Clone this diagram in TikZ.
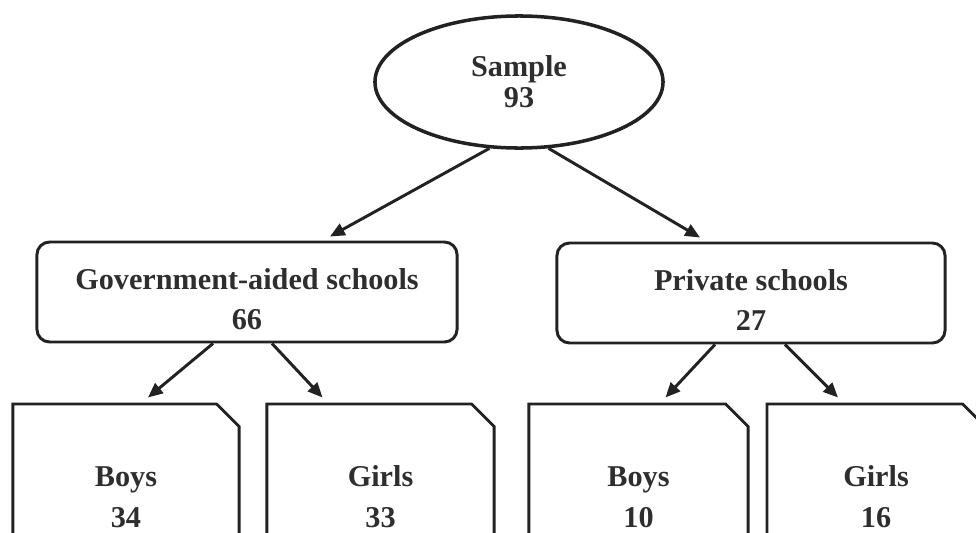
\documentclass[tikz,border=0pt]{standalone}
\usepackage{fontspec}
\setmainfont{Liberation Serif}
\usetikzlibrary{arrows.meta,positioning,shapes.geometric,shapes.misc,calc}
\definecolor{ink}{HTML}{222222}
\definecolor{txt}{HTML}{2E2E2E}
\newcommand{\tallstrut}{\rule{0pt}{25pt}}

\begin{document}
\begin{tikzpicture}[
    x=0.025cm, y=-0.025cm,
    every node/.style={text=txt, font=\bfseries\fontsize{21.5}{29}\selectfont, align=center},
    samplenode/.style={draw=ink, ellipse, line width=2.5pt, minimum width=7.2cm, minimum height=3.3cm, font=\bfseries\fontsize{21.5}{22}\selectfont},
    groupbox/.style={draw=ink, rounded corners=9pt, line width=2.1pt, minimum height=2.5cm},
    leafbox/.style={draw=ink, chamfered rectangle, chamfered rectangle corners=north east, chamfered rectangle sep=0.28cm, line width=2.1pt, minimum height=4.65cm},
    arrow/.style={-{Triangle[length=10.5pt,width=9pt]}, line width=2.1pt, draw=ink}
]
\useasboundingbox (0,0) rectangle (976,533);
\clip (0,0) rectangle (976,533);

\node[samplenode] (sample) at (519,82) {Sample\\93};

\node[groupbox, minimum width=10.5cm] (gov) at (247,292) {\tallstrut Government-aided schools\\66};
\node[groupbox, minimum width=9.7cm] (priv) at (751,293) {\tallstrut Private schools\\27};

\node[leafbox, minimum width=5.65cm] (gboys) at (126,497) {Boys\\34};
\node[leafbox, minimum width=5.675cm] (ggirls) at (380.5,497) {Girls\\33};
\node[leafbox, minimum width=5.475cm] (pboys) at (638.5,497) {Boys\\10};
\node[leafbox, minimum width=5.45cm] (pgirls) at (876,497) {Girls\\16};

\draw[arrow] (sample.246) -- ($(gov.north)+(83,-4)$);
\draw[arrow] (sample.294) -- ($(priv.north)+(-51,-4)$);
\draw[arrow] ($(gov.south)+(-34,0)$) -- ($(gboys.north)+(22,-5)$);
\draw[arrow] ($(gov.south)+(25,0)$) -- ($(ggirls.north)+(-58,-5)$);
\draw[arrow] ($(priv.south)+(-36,0)$) -- ($(pboys.north)+(27,-5)$);
\draw[arrow] ($(priv.south)+(34,0)$) -- ($(pgirls.north)+(-38,-5)$);
\end{tikzpicture}
\end{document}
